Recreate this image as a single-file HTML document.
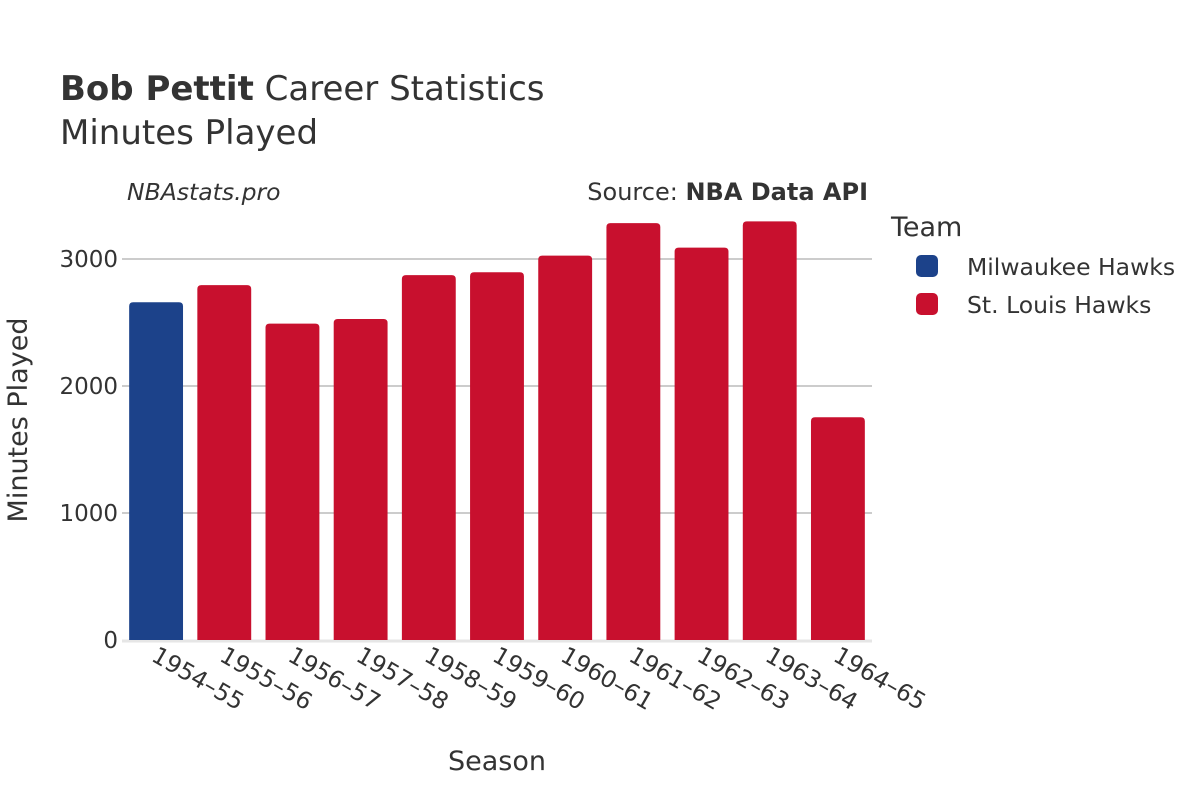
<!DOCTYPE html>
<html><head><meta charset="utf-8"><style>
body{margin:0;background:#fff}
svg text{font-family:"DejaVu Sans","Liberation Sans",sans-serif;fill:#333}
</style></head><body>
<svg width="1200" height="800" xmlns="http://www.w3.org/2000/svg">
<text x="60" y="100" font-size="34"><tspan font-weight="bold">Bob Pettit</tspan> Career Statistics</text>
<text x="60" y="144" font-size="34">Minutes Played</text>
<text x="127" y="200" font-size="23.5" font-style="italic">NBAstats.pro</text>
<text x="868" y="200" font-size="24" text-anchor="end">Source: <tspan font-weight="bold">NBA Data API</tspan></text>
<g id="grid"></g>
<g id="bars"></g>
<g id="xt"></g>
<text x="497" y="770" font-size="27" text-anchor="middle">Season</text>
<text transform="translate(27,420) rotate(-90)" font-size="27" text-anchor="middle">Minutes Played</text>
<text x="891" y="236" font-size="27">Team</text>
<g><rect x="916" y="255" width="22" height="22" rx="5" fill="#1c428a"/><text x="967" y="275" font-size="23.5">Milwaukee Hawks</text></g>
<g><rect x="916" y="293" width="22" height="22" rx="5" fill="#c8102e"/><text x="967" y="313" font-size="23.5">St. Louis Hawks</text></g>
</svg>
<script>
const seasons=["1954–55","1955–56","1956–57","1957–58","1958–59","1959–60","1960–61","1961–62","1962–63","1963–64","1964–65"];
const minutes=[2659,2794,2491,2528,2873,2896,3027,3282,3090,3296,1754];
const teams=["Milwaukee Hawks","St. Louis Hawks","St. Louis Hawks","St. Louis Hawks","St. Louis Hawks","St. Louis Hawks","St. Louis Hawks","St. Louis Hawks","St. Louis Hawks","St. Louis Hawks","St. Louis Hawks"];
const yTicks=[0,1000,2000,3000];
const colors={"Milwaukee Hawks":"#1c428a","St. Louis Hawks":"#c8102e"};
const NS="http://www.w3.org/2000/svg";
const x0=122,x1=872,y0=640,k=0.127;
const bw=(x1-x0)/seasons.length;
const y=v=>y0-v*k;
function mk(t,a,p){const e=document.createElementNS(NS,t);for(const n in a)e.setAttribute(n,a[n]);p.appendChild(e);return e;}
const g=document.getElementById('grid');
yTicks.forEach(t=>{
 if(t>0){const l=mk('line',{x1:x0,x2:x1,y1:y(t),y2:y(t),stroke:'#999','stroke-width':1},g);
 
 }
 const tx=mk('text',{x:x0-4,y:y(t)+8,'font-size':23,'text-anchor':'end'},g);tx.textContent=t;
 
 
});
const ax=mk('line',{x1:x0,x2:x1,y1:y0+1,y2:y0+1,stroke:'#e6e6e6','stroke-width':3},g);


const b=document.getElementById('bars'),xt=document.getElementById('xt');
seasons.forEach((s,i)=>{
 const cx=x0+bw*(i+0.5),w=bw*0.79,top=y(minutes[i]);
 const r=mk('path',{d:`M${cx-w/2},${y0}V${top+4}Q${cx-w/2},${top} ${cx-w/2+4},${top}H${cx+w/2-4}Q${cx+w/2},${top} ${cx+w/2},${top+4}V${y0}Z`,fill:colors[teams[i]]},b);
 
 
 const t=mk('text',{transform:`translate(${cx-6},${y0+20}) rotate(30)`,'font-size':23.5},xt);t.textContent=s;
 
 
});
</script>
</body></html>
